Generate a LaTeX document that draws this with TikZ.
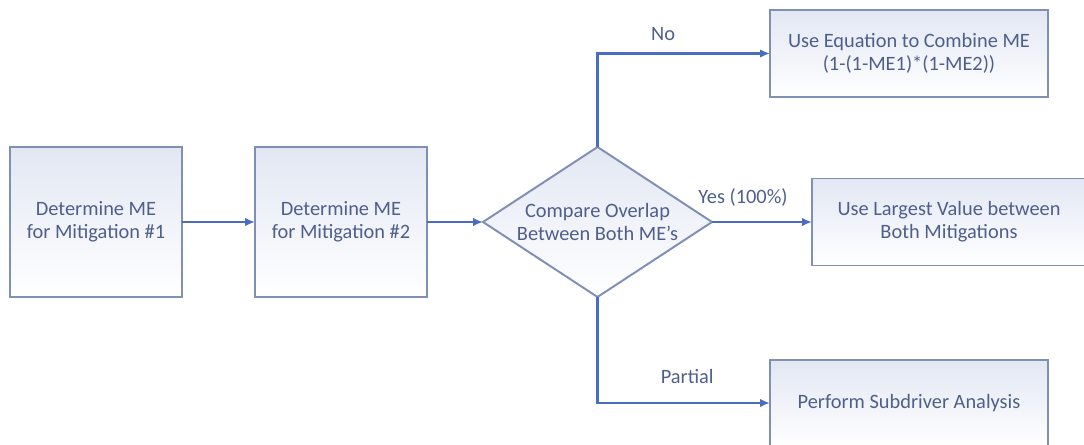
\documentclass[tikz,border=0pt]{standalone}
\usepackage{fontspec}
\setmainfont{Carlito}
\usepackage{tikz}
\usepackage{xcolor}
\usetikzlibrary{arrows.meta,positioning,shapes.geometric}
\definecolor{cInk}{HTML}{4E5F8C}
\definecolor{cEdge}{HTML}{8090B4}
\definecolor{cLink}{HTML}{4A6CC2}
\definecolor{cShade}{HTML}{E2E7F3}
\tikzset{
  >={Latex[length=7pt,width=6pt]},
  box/.style  ={draw=cEdge,line width=1.4pt,top color=cShade,bottom color=white,
                text=cInk,align=center,inner sep=2pt,outer sep=0pt,
                font=\fontsize{14.5}{16.5}\selectfont},
  sqbox/.style={box,minimum width=4.3cm,minimum height=3.75cm},
  wbox/.style ={box,minimum width=6.95cm,minimum height=2.175cm},
  dia/.style  ={box,diamond,minimum width=5.725cm,minimum height=3.75cm,inner sep=0pt},
  txt/.style  ={text=cInk,align=center,font=\fontsize{14.5}{16.5}\selectfont},
  ar/.style   ={->,line width=1.6pt,cLink},
  lbl/.style  ={text=cInk,inner sep=0pt,font=\fontsize{14.5}{16.5}\selectfont},
}
\begin{document}
\begin{tikzpicture}
\clip (0,0) rectangle (27.1,-11.125);
\node[sqbox] (det1) at (2.4,-5.55) {Determine ME\\for Mitigation \#1};
\node[sqbox,right=1.825cm of det1] (det2) {Determine ME\\for Mitigation \#2};
% decision
\node[dia,right=1.4cm of det2] (cmp) {};
\node[txt] (cmptxt) at (cmp) {Compare Overlap\\Between Both ME’s};
% outcomes
\node[wbox] (eqn) at (22.725,-1.3375) {Use Equation to Combine ME\\(1-(1-ME1)*(1-ME2))};
\node[wbox,minimum width=6.85cm,right=2.5cm of cmp] (big) {Use Largest Value between\\Both Mitigations};
\node[wbox,minimum height=2.15cm] (sub) at (22.725,-10.075) {Perform Subdriver Analysis};
\draw[ar] (det1) -- (det2);
\draw[ar] (det2) -- (cmp);
\draw[ar] (cmp.north) |- node[lbl,above=8pt,pos=0.69]{No} (eqn);
\draw[ar] (cmp.east) -- node[lbl,above=10pt,pos=0.31]{Yes (100\%)} (big);
\draw[ar] (cmp.south) |- node[lbl,above=13pt,pos=0.76]{Partial} (sub);
\end{tikzpicture}
\end{document}
